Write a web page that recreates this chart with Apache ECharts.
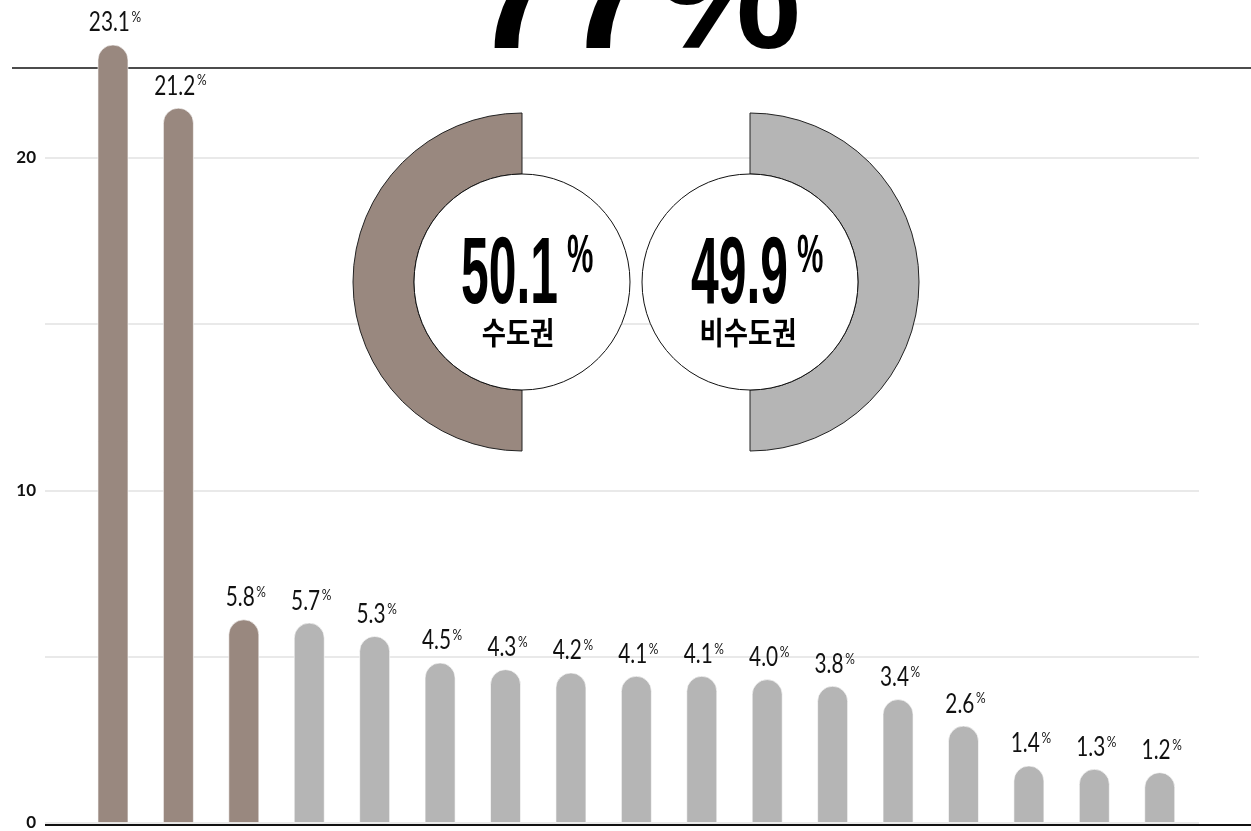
<!DOCTYPE html>
<html>
<head>
<meta charset="utf-8">
<script src="https://cdn.jsdelivr.net/npm/echarts@6.0.0/dist/echarts.min.js"></script>
<style>
  html, body { margin: 0; padding: 0; background: #fff; }
  #chart { width: 1251px; height: 831px; }
</style>
</head>
<body>
<div id="chart"></div>
<script>
// share of each region (%), sorted, first three are the capital area
var shareValues = [23.1, 21.2, 5.8, 5.7, 5.3, 4.5, 4.3, 4.2, 4.1, 4.1, 4.0, 3.8, 3.4, 2.6, 1.4, 1.3, 1.2];
var isCapital = [true, true, true, false, false, false, false, false, false, false, false, false, false, false, false, false, false];
var yTickLabels = [0, 10, 20];

var regionNames = ['수도권', '비수도권'];
var regionShares = [50.1, 49.9];
var headline = '77%';

var BROWN = '#99887f';
var GREY = '#b5b5b5';
var BAR_W = 30;
var CAP = 10;

var myChart = echarts.init(document.getElementById('chart'));

var barData = shareValues.map(function (v, i) {
    return [i, v, isCapital[i] ? 1 : 0];
});

function renderBar(params, api) {
    var v = api.value(1);
    var base = api.coord([api.value(0), 0]);
    var top = api.coord([api.value(0), v]);
    var capTop = top[1] - CAP;
    return {
        type: 'group',
        children: [{
            type: 'rect',
            shape: {
                x: base[0] - BAR_W / 2,
                y: capTop,
                width: BAR_W,
                height: base[1] - capTop,
                r: [BAR_W / 2, BAR_W / 2, 0, 0]
            },
            style: {
                fill: api.value(2) ? BROWN : GREY,
                stroke: 'rgba(255,255,255,0.6)',
                lineWidth: 1
            }
        }, {
            type: 'text',
            x: base[0] + 2,
            y: capTop - 9,
            scaleX: 0.8,
            style: {
                text: '{n|' + v.toFixed(1) + '}{p|%}',
                align: 'center',
                verticalAlign: 'bottom',
                rich: {
                    n: { fontSize: 26, fontFamily: 'Lato', fill: '#111', color: '#111' },
                    p: { fontSize: 15, fontFamily: 'Lato', fill: '#111', color: '#111', verticalAlign: 'top', padding: [0, 0, 0, 2] }
                }
            }
        }]
    };
}

function halfRing(center, share, clockwise, color) {
    return {
        type: 'pie',
        center: center,
        radius: [108, 169],
        startAngle: 90,
        clockwise: clockwise,
        silent: true,
        animation: false,
        label: { show: false },
        labelLine: { show: false },
        emphasis: { disabled: true },
        data: [
            { value: share, itemStyle: { color: color, borderColor: '#222', borderWidth: 1 } },
            { value: share, itemStyle: { color: 'rgba(0,0,0,0)', borderWidth: 0 } }
        ],
        z: 4
    };
}

function whiteDisc(center) {
    return {
        type: 'pie',
        center: center,
        radius: [0, 108],
        silent: true,
        animation: false,
        label: { show: false },
        labelLine: { show: false },
        emphasis: { disabled: true },
        data: [{ value: 1, itemStyle: { color: '#fff', borderColor: '#111', borderWidth: 1 } }],
        z: 5
    };
}

var leftC = [522, 282];
var rightC = [750, 282];

var option = {
    backgroundColor: '#fff',
    animation: false,
    grid: { left: 45, right: 52, top: 158, bottom: 6 },
    xAxis: {
        type: 'value',
        min: -1.039,
        max: 16.6,
        show: false
    },
    yAxis: {
        type: 'value',
        min: 0,
        max: 20,
        interval: 5,
        axisLine: { show: false },
        axisTick: { show: false },
        splitLine: { lineStyle: { color: '#e2e2e2', width: 1.5 } },
        axisLabel: {
            margin: 9,
            color: '#111',
            fontSize: 17,
            fontWeight: 'bold',
            fontFamily: 'Lato',
            formatter: function (v) {
                return yTickLabels.indexOf(v) >= 0 ? String(v) : '';
            }
        }
    },
    series: [{
        type: 'custom',
        renderItem: renderBar,
        data: barData,
        encode: { x: 0, y: 1 },
        clip: false,
        z: 3
    },
        halfRing(leftC, regionShares[0], false, BROWN),
        halfRing(rightC, regionShares[1], true, GREY),
        whiteDisc(leftC),
        whiteDisc(rightC)
    ],
    graphic: [
        { type: 'line', z: 1, shape: { x1: 12, y1: 68, x2: 1251, y2: 68 }, style: { stroke: '#111', lineWidth: 1.5 } },
        { type: 'line', z: 10, shape: { x1: 45, y1: 825, x2: 1251, y2: 825 }, style: { stroke: '#111', lineWidth: 2 } },
        {
            type: 'text', z: 10, x: 636, y: 2,
            style: { text: headline, font: 'bold 165px "Liberation Sans"', fill: '#000', align: 'center', verticalAlign: 'middle' }
        },
        {
            type: 'text', z: 10, x: leftC[0] + 36, y: 277, scaleX: 0.53,
            style: { text: regionShares[0].toFixed(1), font: 'bold 94px "Liberation Sans"', fill: '#000', align: 'right', verticalAlign: 'middle' }
        },
        {
            type: 'text', z: 10, x: leftC[0] + 45, y: 257, scaleX: 0.55,
            style: { text: '%', font: 'bold 54px "Liberation Sans"', fill: '#000', align: 'left', verticalAlign: 'middle' }
        },
        {
            type: 'text', z: 10, x: leftC[0] - 4, y: 332, scaleX: 0.85,
            style: { text: regionNames[0], font: 'bold 31px "Noto Sans CJK KR"', fill: '#000', align: 'center', verticalAlign: 'middle' }
        },
        {
            type: 'text', z: 10, x: rightC[0] + 38, y: 277, scaleX: 0.53,
            style: { text: regionShares[1].toFixed(1), font: 'bold 94px "Liberation Sans"', fill: '#000', align: 'right', verticalAlign: 'middle' }
        },
        {
            type: 'text', z: 10, x: rightC[0] + 47, y: 257, scaleX: 0.55,
            style: { text: '%', font: 'bold 54px "Liberation Sans"', fill: '#000', align: 'left', verticalAlign: 'middle' }
        },
        {
            type: 'text', z: 10, x: rightC[0] - 2, y: 332, scaleX: 0.85,
            style: { text: regionNames[1], font: 'bold 31px "Noto Sans CJK KR"', fill: '#000', align: 'center', verticalAlign: 'middle' }
        }
    ]
};

myChart.setOption(option);
</script>
</body>
</html>
